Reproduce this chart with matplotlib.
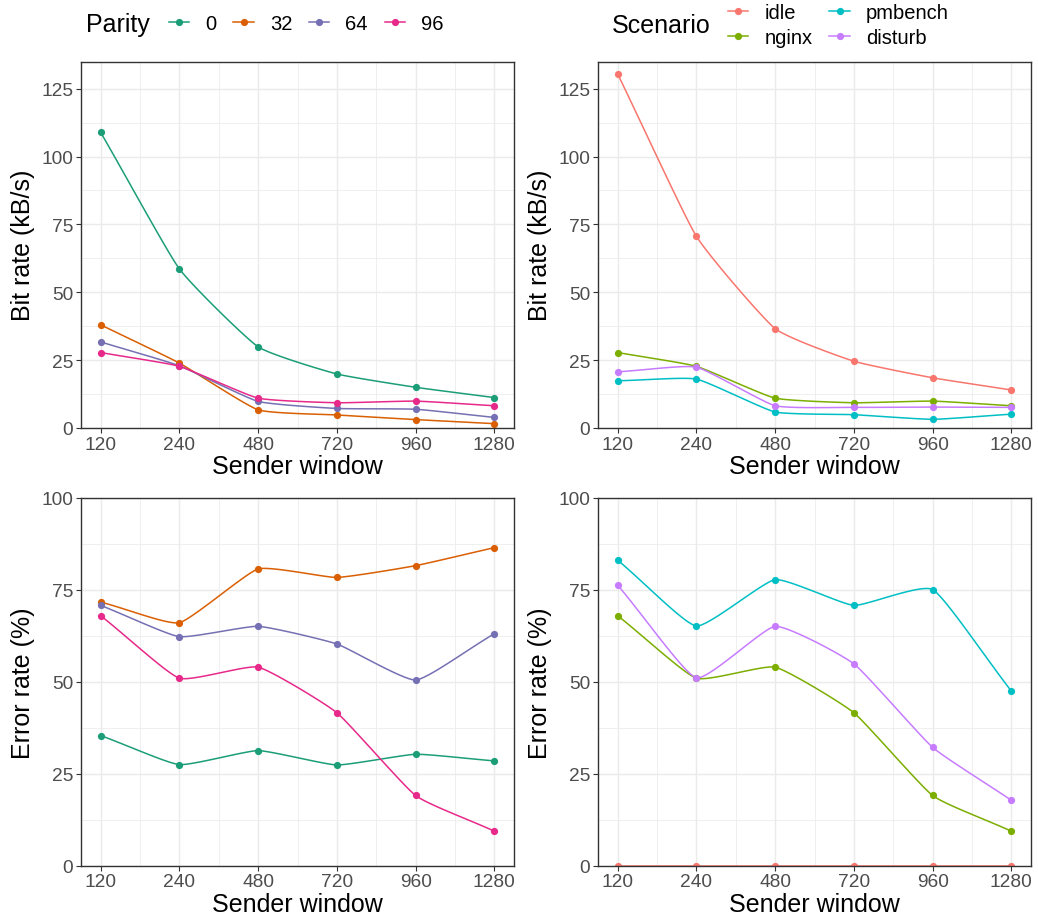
import matplotlib.pyplot as plt
import numpy as np

# ---------------------------------------------------------------------------
# measured data
# ---------------------------------------------------------------------------
windows = ["120", "240", "480", "720", "960", "1280"]

parity_labels = ["0", "32", "64", "96"]
parity_bitrate = {
    "0":  [108.9, 58.6, 29.9, 19.9, 15.0, 11.2],
    "32": [38.0, 23.9, 6.7, 4.8, 3.1, 1.6],
    "64": [31.7, 22.9, 9.8, 7.2, 6.9, 3.9],
    "96": [27.8, 22.7, 11.0, 9.3, 9.9, 8.2],
}
parity_error = {
    "0":  [35.4, 27.5, 31.3, 27.4, 30.3, 28.5],
    "32": [71.7, 66.1, 80.7, 78.4, 81.6, 86.5],
    "64": [70.8, 62.3, 65.1, 60.3, 50.5, 63.1],
    "96": [68.0, 51.0, 54.0, 41.6, 19.1, 9.4],
}

scenario_labels = ["idle", "nginx", "pmbench", "disturb"]
scenario_bitrate = {
    "idle":    [130.4, 70.6, 36.6, 24.6, 18.5, 14.0],
    "nginx":   [27.8, 22.7, 11.0, 9.3, 9.9, 8.2],
    "pmbench": [17.4, 18.0, 5.9, 4.9, 3.2, 5.1],
    "disturb": [20.7, 22.4, 8.2, 7.6, 7.7, 7.6],
}
scenario_error = {
    "idle":    [0, 0, 0, 0, 0, 0],
    "nginx":   [68.0, 51.0, 54.0, 41.6, 19.1, 9.4],
    "pmbench": [83.1, 65.2, 77.8, 70.8, 75.1, 47.5],
    "disturb": [76.3, 51.1, 65.1, 54.9, 32.2, 17.8],
}

parity_colors = ["#1B9E77", "#D95F02", "#7570B3", "#E7298A"]
scenario_colors = ["#F8766D", "#7CAE00", "#00BFC4", "#C77CFF"]

# ---------------------------------------------------------------------------
# style
# ---------------------------------------------------------------------------
plt.rcParams["font.family"] = ["Liberation Sans", "DejaVu Sans"]

TICK_FS = 13.8
TITLE_FS = 18
LEG_FS = 14.5
LW = 1.1
MS = 5.2


def smooth(xs, ys, n=24, s=0.22):
    """Hermite spline through the points, tangents damped by s."""
    p = np.column_stack([xs, ys]).astype(float)
    k = len(p)
    tang = np.zeros_like(p)
    for i in range(k):
        if i == 0:
            tang[i] = (p[1] - p[0])
        elif i == k - 1:
            tang[i] = (p[-1] - p[-2])
        else:
            tang[i] = s * (p[i + 1] - p[i - 1])
    out = []
    t = np.linspace(0, 1, n)
    h00 = 2 * t**3 - 3 * t**2 + 1
    h10 = t**3 - 2 * t**2 + t
    h01 = -2 * t**3 + 3 * t**2
    h11 = t**3 - t**2
    for i in range(k - 1):
        seg = (h00[:, None] * p[i] + h10[:, None] * tang[i]
               + h01[:, None] * p[i + 1] + h11[:, None] * tang[i + 1])
        out.append(seg if i == 0 else seg[1:])
    out = np.vstack(out)
    return out[:, 0], out[:, 1]


def style_axes(ax, ymax, yticks, yminor, ylabel):
    ax.set_xlim(0.75, 6.25)
    ax.set_ylim(0, ymax)
    ax.set_xticks(np.arange(1, 7))
    ax.set_xticklabels(windows)
    ax.set_xticks(np.arange(1.5, 6.0, 1.0), minor=True)
    ax.set_yticks(yticks)
    ax.set_yticks(yminor, minor=True)
    ax.grid(which="major", color="#EBEBEB", linewidth=1.07, zorder=0)
    ax.grid(which="minor", color="#EBEBEB", linewidth=0.55, zorder=0)
    ax.set_axisbelow(True)
    for sp in ax.spines.values():
        sp.set_color("#333333")
        sp.set_linewidth(1.0)
        sp.set_zorder(5)
    ax.tick_params(which="major", length=3.5, width=0.8, color="#333333",
                   labelsize=TICK_FS, labelcolor="#4D4D4D", pad=2)
    ax.tick_params(which="minor", length=0)
    ax.set_xlabel("Sender window", fontsize=TITLE_FS, labelpad=1)
    ax.set_ylabel(ylabel, fontsize=TITLE_FS, labelpad=4)
    ax.yaxis.set_label_coords(-0.107, 0.5)


def draw(ax, labels, data, colors):
    x = np.arange(1, 7)
    for lab, col in zip(labels, colors):
        sx, sy = smooth(x, data[lab])
        ax.plot(sx, sy, color=col, linewidth=LW, zorder=3)
        ax.plot(x, data[lab], "o", color=col, markersize=MS,
                markeredgewidth=0, zorder=4)


W, H = 1038, 920
fig = plt.figure(figsize=(W / 100, H / 100), dpi=100)
fig.set_facecolor("w")

x_left, x_right = 81, 598
w_px = 433
top_y0, top_y1 = 62.5, 429
bot_y0, bot_y1 = 499, 866.7


def axes_at(xl, y0, y1):
    return fig.add_axes([xl / W, 1 - y1 / H, w_px / W, (y1 - y0) / H])


ax1 = axes_at(x_left, top_y0, top_y1)
ax2 = axes_at(x_right, top_y0, top_y1)
ax3 = axes_at(x_left, bot_y0, bot_y1)
ax4 = axes_at(x_right, bot_y0, bot_y1)

draw(ax1, parity_labels, parity_bitrate, parity_colors)
draw(ax2, scenario_labels, scenario_bitrate, scenario_colors)
draw(ax3, parity_labels, parity_error, parity_colors)
draw(ax4, scenario_labels, scenario_error, scenario_colors)

top_ticks = [0, 25, 50, 75, 100, 125]
top_minor = [12.5, 37.5, 62.5, 87.5, 112.5]
bot_ticks = [0, 25, 50, 75, 100]
bot_minor = [12.5, 37.5, 62.5, 87.5]
style_axes(ax1, 135, top_ticks, top_minor, "Bit rate (kB/s)")
style_axes(ax2, 135, top_ticks, top_minor, "Bit rate (kB/s)")
style_axes(ax3, 100, bot_ticks, bot_minor, "Error rate (%)")
style_axes(ax4, 100, bot_ticks, bot_minor, "Error rate (%)")


# ---------------------------------------------------------------------------
# legends
# ---------------------------------------------------------------------------
def handles(colors):
    return [plt.Line2D([], [], color=c, linewidth=LW, marker="o",
                       markersize=MS, markeredgewidth=0) for c in colors]


fig.text(86 / W, 1 - 25 / H, "Parity", fontsize=TITLE_FS, va="center",
         ha="left")
fig.legend(handles(parity_colors), parity_labels, ncol=4,
           loc="center left", bbox_to_anchor=(169 / W, 1 - 25 / H),
           frameon=False, fontsize=LEG_FS, handlelength=1.0,
           handletextpad=0.8, columnspacing=0.85, borderpad=0,
           borderaxespad=0)

fig.text(612 / W, 1 - 26 / H, "Scenario", fontsize=TITLE_FS, va="center",
         ha="left")
fig.legend(handles(scenario_colors), scenario_labels, ncol=2,
           loc="center left", bbox_to_anchor=(728 / W, 1 - 26 / H),
           frameon=False, fontsize=LEG_FS, handlelength=1.0,
           handletextpad=0.8, columnspacing=0.85, labelspacing=0.3,
           borderpad=0, borderaxespad=0)

plt.savefig("out.png", dpi=100)
